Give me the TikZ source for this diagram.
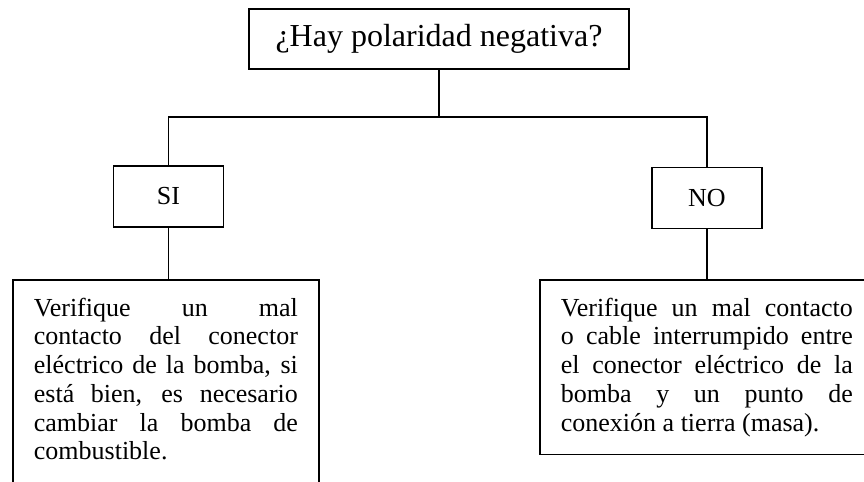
\documentclass[tikz,border=0pt]{standalone}
\usepackage{fontspec}
\setmainfont{Liberation Serif}
\usetikzlibrary{positioning}
\hyphenpenalty=10000
\tikzset{
  link/.style   ={draw=black, line width=0.9pt},
  qbox/.style   ={draw=black, line width=0.9pt, minimum width=190pt, minimum height=30pt,
                  inner sep=0pt, font=\fontsize{16}{19}\selectfont},
  ansbox/.style ={draw=black, line width=0.9pt, minimum width=55pt, minimum height=30.5pt,
                  inner sep=0pt, font=\fontsize{13}{15}\selectfont},
  txtbox/.style ={draw=black, line width=0.9pt, anchor=north west, inner xsep=10.5pt,
                  inner ysep=9pt, align=justify, font=\fontsize{13}{14.35}\selectfont},
}

\begin{document}
\begin{tikzpicture}[x=0.5pt,y=-0.5pt]
  \useasboundingbox (0,0) rectangle (864,482);
  % pregunta y respuestas
  \node[qbox]   (preg) at (439,39)      {¿Hay polaridad negativa?};
  \node[ansbox] (si)   at (168.5,196.5) {SI};
  \node[ansbox] (no)   at (707,198)     {NO};
  % acciones
  \node[txtbox, text width=132pt] (sitxt) at (12,279)
    {Verifique un mal\linebreak contacto del conector\linebreak
     eléctrico de la bomba, si\linebreak está bien, es necesario\linebreak
     cambiar la bomba de\linebreak combustible.\rule[-20pt]{0pt}{20pt}};
  \node[txtbox, text width=146pt] (notxt) at (539,279)
    {Verifique un mal contacto\linebreak o cable interrumpido entre\linebreak
     el conector eléctrico de la\linebreak bomba y un punto de\linebreak
     conexión a tierra (masa).};
  \coordinate (fork) at (439,117);
  \draw[link] (preg.south) -- (fork);
  \draw[link] (fork) -| (si.north);
  \draw[link] (fork) -| (no.north);
  \draw[link] (si.south) -- (si.south |- sitxt.north);
  \draw[link] (no.south) -- (no.south |- notxt.north);
\end{tikzpicture}
\end{document}
